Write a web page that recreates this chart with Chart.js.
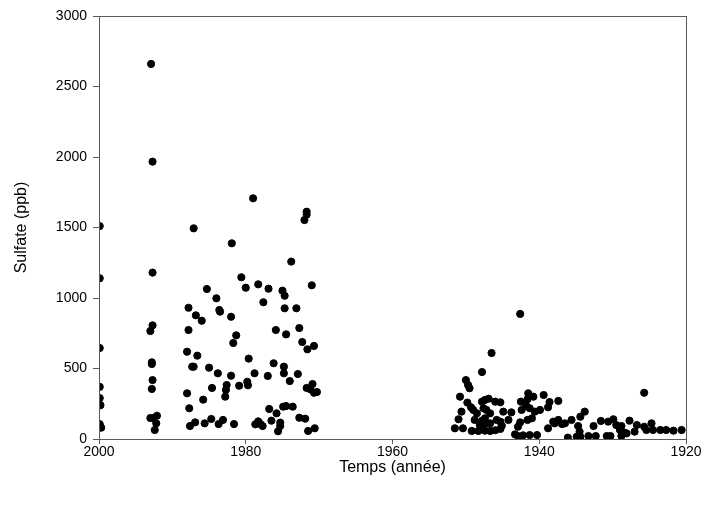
<!DOCTYPE html>
<html>
<head>
<meta charset="utf-8">
<script src="https://cdn.jsdelivr.net/npm/chart.js@4.4.1/dist/chart.umd.min.js"></script>
<style>
  html, body { margin: 0; padding: 0; background: #fff; }
  #wrap { width: 706px; height: 510px; }
</style>
</head>
<body>
<div id="wrap"><canvas id="sulfateChart" width="706" height="510"></canvas></div>
<script>
// values (year, sulfate ppb)
const years = [
  1999.9, 1999.9, 1999.9, 1999.9, 1999.9, 1999.8, 1999.9, 1999.7,
  1992.9, 1992.7, 1992.7, 1992.7, 1993.0, 1992.8, 1992.8, 1992.7, 1992.8, 1993.0, 1992.6, 1992.1, 1992.2, 1992.4,
  1979.0, 1971.7, 1971.7, 1972.0, 1987.1, 1981.9, 1973.8, 1980.6, 1985.3, 1980.0, 1978.3, 1976.9, 1975.0, 1974.7,
  1971.0, 1984.0, 1977.6, 1987.8, 1983.6, 1974.7, 1973.1, 1986.8, 1986.0, 1983.5, 1982.0, 1987.8, 1975.9, 1974.5,
  1972.7, 1981.3, 1981.7, 1972.3, 1971.6, 1970.7, 1988.0, 1986.6, 1987.3, 1987.1, 1985.0, 1983.8, 1982.0, 1979.6,
  1978.8, 1979.8, 1979.7, 1980.9, 1976.2, 1974.8, 1974.8, 1972.9, 1974.0, 1977.0, 1982.6, 1982.7, 1982.8, 1984.6,
  1985.8, 1988.0, 1971.7, 1971.2, 1970.9, 1970.7, 1970.3, 1987.7, 1976.8, 1975.8, 1974.9, 1974.5, 1973.6, 1987.6,
  1986.9, 1985.6, 1984.7, 1983.7, 1983.1, 1981.6, 1978.7, 1978.3, 1978.0, 1977.7, 1976.5, 1975.3, 1975.3, 1975.6,
  1972.7, 1971.9, 1971.5, 1970.6,
  1942.6, 1946.5, 1947.8, 1950.0, 1949.7, 1949.5, 1950.8, 1941.5, 1941.6, 1940.8, 1939.4, 1946.9, 1947.4, 1937.4,
  1938.6, 1938.8, 1949.8, 1949.3, 1947.8, 1946.0, 1945.3, 1942.5, 1941.8, 1941.3, 1939.9, 1950.6, 1949.0, 1948.5,
  1947.6, 1947.2, 1946.7, 1944.9, 1943.8, 1942.4, 1940.6, 1951.0, 1948.8, 1947.8, 1947.4, 1945.8, 1945.3, 1944.2,
  1942.6, 1941.6, 1941.0, 1938.1, 1937.4, 1951.5, 1950.4, 1949.2, 1948.3, 1947.4, 1946.7, 1946.0, 1945.3, 1945.1,
  1948.1, 1947.4, 1946.7, 1943.3, 1942.9, 1942.2, 1941.3, 1940.3, 1942.9, 1938.8, 1937.9, 1936.9, 1936.5, 1935.6,
  1934.4, 1933.8, 1936.1, 1934.7, 1934.5, 1934.9, 1934.4, 1933.3, 1932.3, 1932.6, 1931.6, 1930.6, 1929.9, 1929.5,
  1928.8, 1927.7, 1926.7, 1925.7, 1924.7, 1930.8, 1930.3, 1928.8, 1928.1, 1927.0, 1925.7, 1925.4, 1924.5, 1923.5,
  1922.7, 1921.7, 1920.6, 1929.0, 1928.4
];
const sulfate = [
  1510, 1140, 645, 370, 290, 240, 105, 80,
  2660, 1967, 1180, 806, 766, 544, 532, 418, 355, 149, 149, 165, 111, 64,
  1707, 1612, 1591, 1553, 1494, 1388, 1258, 1147, 1064, 1073, 1097, 1066, 1052, 1016,
  1090, 998, 970, 931, 915, 927, 927, 877, 839, 903, 867, 773, 773, 742,
  787, 735, 681, 688, 636, 660, 619, 591, 513, 513, 506, 466, 449, 570,
  466, 406, 381, 378, 537, 513, 466, 461, 411, 447, 383, 348, 300, 362,
  279, 324, 362, 352, 390, 328, 333, 218, 213, 182, 229, 234, 229, 92,
  118, 111, 142, 106, 135, 106, 104, 125, 106, 92, 130, 116, 92, 55,
  151, 144, 57, 76,
  887, 610, 475, 418, 383, 360, 300, 324, 282, 300, 312, 286, 277, 270,
  262, 225, 258, 225, 265, 265, 260, 265, 236, 218, 206, 194, 206, 182,
  218, 206, 182, 194, 189, 206, 194, 140, 135, 130, 147, 135, 123, 135,
  118, 135, 147, 123, 135, 76, 76, 57, 57, 59, 57, 62, 71, 94,
  99, 106, 111, 33, 21, 26, 28, 28, 87, 76, 111, 106, 111, 135,
  158, 194, 10, 92, 52, 16, 16, 21, 21, 92, 128, 123, 140, 99,
  92, 130, 99, 87, 111, 21, 21, 21, 40, 52, 328, 64, 64, 64,
  64, 59, 64, 64, 45
];
const xRange = [1920, 2000];
const yRange = [0, 3000];

const axisColor = '#5a5a5a';
const font = 'Arial, "Liberation Sans", sans-serif';

const framePlugin = {
  id: 'frame',
  afterDraw(chart) {
    const { ctx, chartArea: a } = chart;
    ctx.save();
    ctx.strokeStyle = axisColor;
    ctx.lineWidth = 1;
    ctx.strokeRect(a.left + 0.5, a.top + 0.5, a.right - a.left, a.bottom - a.top);
    ctx.restore();
  },
};

new Chart(document.getElementById('sulfateChart'), {
  type: 'scatter',
  data: {
    datasets: [{
      data: years.map((y, i) => ({ x: y, y: sulfate[i] })),
      backgroundColor: '#000',
      borderColor: '#000',
      pointRadius: 3.6,
      pointHoverRadius: 3.6,
    }],
  },
  options: {
    responsive: false,
    animation: false,
    layout: { padding: { left: 0, top: 16, right: 20, bottom: 0 } },
    plugins: { legend: { display: false }, tooltip: { enabled: false } },
    scales: {
      x: {
        type: 'linear',
        reverse: true,
        min: xRange[0],
        max: xRange[1],
        afterFit(s) { s.height = 71; },
        ticks: { stepSize: 20, color: '#000', padding: 0, maxRotation: 0, font: { family: font, size: 14 }, callback: (v) => String(v) },
        grid: { drawOnChartArea: false, drawTicks: true, tickLength: 5, tickColor: axisColor },
        border: { display: true, color: axisColor },
        title: { display: true, text: 'Temps (année)', color: '#000', font: { family: font, size: 16 }, padding: { top: 0, bottom: 33 } },
      },
      y: {
        min: yRange[0],
        max: yRange[1],
        afterFit(s) { s.width = 99; },
        ticks: { stepSize: 500, color: '#000', padding: 6, font: { family: font, size: 14 }, callback: (v) => String(v) },
        grid: { drawOnChartArea: false, drawTicks: true, tickLength: 6, tickColor: axisColor },
        border: { display: true, color: axisColor },
        title: { display: true, text: 'Sulfate (ppb)', color: '#000', font: { family: font, size: 16 }, padding: { top: 12, bottom: 0 } },
      },
    },
  },
  plugins: [framePlugin],
});
</script>
</body>
</html>
